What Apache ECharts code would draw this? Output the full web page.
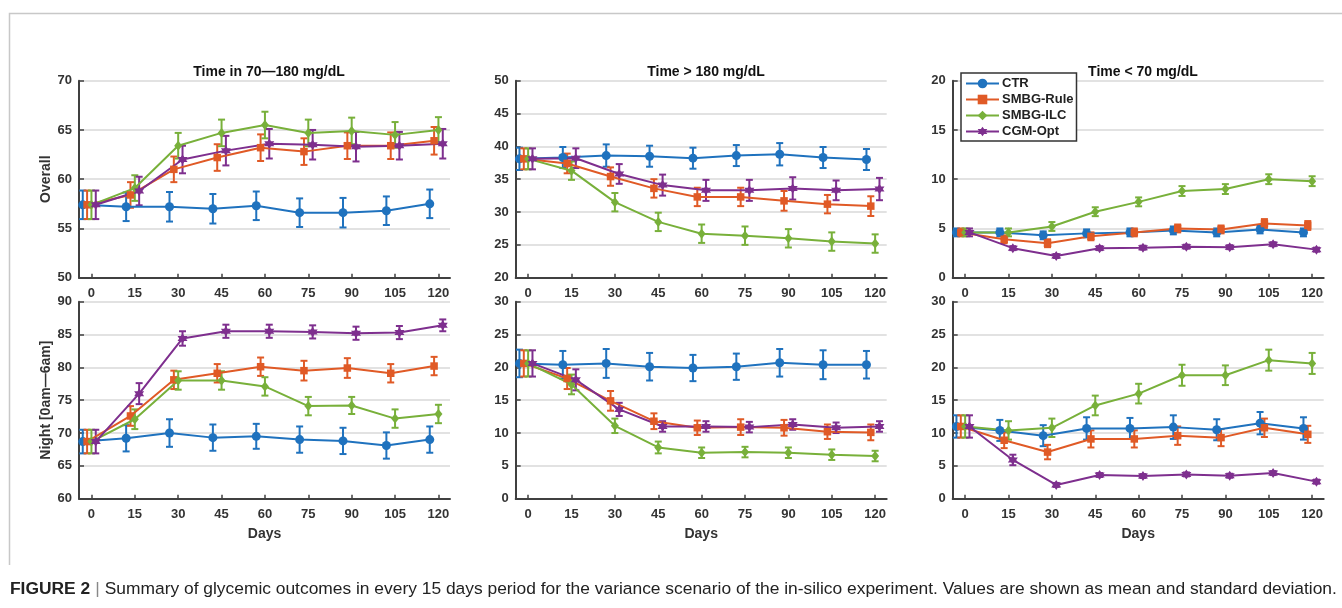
<!DOCTYPE html>
<html lang="en" style="height: 100%">
<head>
  <meta charset="utf-8">
  <title>Figure 2</title>
</head>
<body style="height: 100%; margin: 0; background: #fff">
  <div id="container" style="width: 1342px; height: 608px"></div>
  <script src="https://cdn.jsdelivr.net/npm/echarts@6/dist/echarts.min.js"></script>
  <script>
    // days and series names
    var days = [0, 15, 30, 45, 60, 75, 90, 105, 120];
    var methods = ['CTR', 'SMBG-Rule', 'SMBG-ILC', 'CGM-Opt'];
    var colors = ['#1f72be', '#e05a26', '#78b03a', '#7e2f8e'];
    var offsets = [-3, -1.5, 0, 1.5];

    // Time in 70-180, overall  (rows: CTR, Rule, ILC, Opt)
    var tirAllMean = [
      [57.4, 57.2, 57.2, 57.0, 57.3, 56.6, 56.6, 56.8, 57.5],
      [57.4, 58.4, 61.0, 62.2, 63.2, 62.8, 63.4, 63.4, 63.9],
      [57.4, 59.1, 63.4, 64.7, 65.5, 64.7, 64.9, 64.5, 65.0],
      [57.4, 58.8, 62.0, 62.9, 63.6, 63.5, 63.3, 63.4, 63.6]
    ];
    var tirAllSd = [
      [1.45, 1.45, 1.5, 1.5, 1.45, 1.45, 1.5, 1.45, 1.45],
      [1.45, 1.3, 1.3, 1.35, 1.35, 1.35, 1.35, 1.35, 1.4],
      [1.45, 1.3, 1.3, 1.35, 1.35, 1.35, 1.35, 1.3, 1.3],
      [1.45, 1.45, 1.4, 1.5, 1.5, 1.5, 1.5, 1.4, 1.5]
    ];
    // Time in 70-180, night
    var tirNightMean = [
      [68.7, 69.2, 70.0, 69.3, 69.5, 69.0, 68.8, 68.1, 69.0],
      [68.7, 72.6, 78.1, 79.1, 80.1, 79.5, 79.9, 79.1, 80.2],
      [68.7, 72.1, 78.0, 78.0, 77.1, 74.1, 74.2, 72.2, 72.9],
      [68.7, 76.0, 84.4, 85.5, 85.5, 85.4, 85.2, 85.3, 86.4]
    ];
    var tirNightSd = [
      [1.8, 2.0, 2.1, 2.0, 1.9, 2.0, 2.0, 2.0, 2.0],
      [1.8, 1.5, 1.4, 1.4, 1.4, 1.5, 1.5, 1.4, 1.4],
      [1.8, 1.5, 1.4, 1.4, 1.4, 1.4, 1.3, 1.4, 1.4],
      [1.8, 1.6, 1.1, 1.0, 1.0, 1.0, 1.0, 1.0, 0.9]
    ];
    // Time > 180, overall
    var tarAllMean = [
      [38.1, 38.3, 38.6, 38.5, 38.2, 38.6, 38.8, 38.3, 38.0],
      [38.1, 37.4, 35.4, 33.6, 32.3, 32.3, 31.7, 31.2, 30.9],
      [38.1, 36.3, 31.5, 28.5, 26.7, 26.4, 26.0, 25.5, 25.2],
      [38.1, 38.2, 35.8, 34.1, 33.3, 33.3, 33.6, 33.3, 33.5]
    ];
    var tarAllSd = [
      [1.7, 1.6, 1.7, 1.6, 1.6, 1.6, 1.7, 1.6, 1.6],
      [1.6, 1.5, 1.4, 1.4, 1.4, 1.4, 1.5, 1.4, 1.5],
      [1.6, 1.4, 1.4, 1.4, 1.4, 1.4, 1.4, 1.4, 1.4],
      [1.6, 1.5, 1.5, 1.6, 1.6, 1.6, 1.7, 1.5, 1.7]
    ];
    // Time > 180, night
    var tarNightMean = [
      [20.6, 20.4, 20.6, 20.1, 19.9, 20.1, 20.7, 20.4, 20.4],
      [20.6, 18.3, 14.9, 11.8, 10.8, 10.9, 10.8, 10.2, 10.1],
      [20.6, 17.4, 11.1, 7.8, 7.0, 7.1, 7.0, 6.7, 6.5],
      [20.6, 18.1, 13.6, 11.0, 11.0, 10.9, 11.3, 10.8, 11.0]
    ];
    var tarNightSd = [
      [2.1, 2.1, 2.2, 2.1, 2.0, 2.0, 2.1, 2.2, 2.1],
      [2.0, 1.6, 1.5, 1.2, 1.1, 1.2, 1.2, 1.1, 1.2],
      [2.0, 1.5, 1.1, 0.9, 0.8, 0.8, 0.8, 0.8, 0.8],
      [2.0, 1.6, 1.0, 0.8, 0.8, 0.8, 0.8, 0.8, 0.8]
    ];
    // Time < 70, overall
    var tbrAllMean = [
      [4.6, 4.6, 4.3, 4.5, 4.6, 4.8, 4.6, 4.9, 4.6],
      [4.6, 3.9, 3.5, 4.2, 4.6, 5.0, 4.9, 5.5, 5.3],
      [4.6, 4.6, 5.2, 6.7, 7.7, 8.8, 9.0, 10.0, 9.8],
      [4.6, 3.0, 2.2, 3.0, 3.05, 3.15, 3.1, 3.4, 2.85]
    ];
    var tbrAllSd = [
      [0.4, 0.4, 0.4, 0.4, 0.4, 0.4, 0.4, 0.4, 0.4],
      [0.4, 0.4, 0.4, 0.4, 0.4, 0.4, 0.4, 0.45, 0.45],
      [0.4, 0.4, 0.45, 0.45, 0.45, 0.5, 0.5, 0.5, 0.5],
      [0.4, 0.2, 0.2, 0.2, 0.2, 0.2, 0.2, 0.2, 0.2]
    ];
    // Time < 70, night
    var tbrNightMean = [
      [11.0, 10.4, 9.6, 10.7, 10.7, 10.9, 10.5, 11.5, 10.7],
      [11.0, 8.9, 7.1, 9.1, 9.1, 9.6, 9.3, 10.8, 9.8],
      [11.0, 10.4, 10.8, 14.2, 16.0, 18.8, 18.8, 21.1, 20.6],
      [11.0, 5.9, 2.1, 3.6, 3.45, 3.7, 3.5, 3.9, 2.6]
    ];
    var tbrNightSd = [
      [1.7, 1.6, 1.6, 1.7, 1.6, 1.8, 1.6, 1.7, 1.7],
      [1.7, 1.2, 1.1, 1.3, 1.3, 1.4, 1.3, 1.4, 1.3],
      [1.7, 1.4, 1.4, 1.5, 1.5, 1.6, 1.5, 1.6, 1.6],
      [1.7, 0.8, 0.3, 0.3, 0.3, 0.3, 0.3, 0.3, 0.3]
    ];

    var panels = [
      { mean: tirAllMean, sd: tirAllSd, y: [50, 70, 5] },
      { mean: tarAllMean, sd: tarAllSd, y: [20, 50, 5] },
      { mean: tbrAllMean, sd: tbrAllSd, y: [0, 20, 5] },
      { mean: tirNightMean, sd: tirNightSd, y: [60, 90, 5] },
      { mean: tarNightMean, sd: tarNightSd, y: [0, 30, 5] },
      { mean: tbrNightMean, sd: tbrNightSd, y: [0, 30, 5] }
    ];

    var FONT = '"Liberation Sans", Arial, sans-serif';
    var AXIS = '#404040';
    var hexagram = 'path://M0,-10L2.89,-5L8.66,-5L5.77,0L8.66,5L2.89,5L0,10L-2.89,5L-8.66,5L-5.77,0L-8.66,-5L-2.89,-5Z';
    var symbols = ['circle', 'rect', 'diamond', hexagram];
    var symbolSizes = [9, 7.5, [8, 10], 10];

    var lefts = [79, 515.7, 952.7];
    var tops = [80.7, 301.7];

    var grids = [], xAxes = [], yAxes = [], series = [];

    function errRender(params, api) {
      var x = api.value(0);
      var top = api.coord([x, api.value(2)]);
      var bot = api.coord([x, api.value(1)]);
      var w = 3.5;
      var st = { stroke: api.visual('color'), lineWidth: 2 };
      return {
        type: 'group',
        children: [
          { type: 'line', shape: { x1: top[0], y1: top[1], x2: bot[0], y2: bot[1] }, style: st },
          { type: 'line', shape: { x1: top[0] - w, y1: top[1], x2: top[0] + w, y2: top[1] }, style: st },
          { type: 'line', shape: { x1: bot[0] - w, y1: bot[1], x2: bot[0] + w, y2: bot[1] }, style: st }
        ]
      };
    }

    panels.forEach(function (p, i) {
      var row = Math.floor(i / 3), col = i % 3;
      grids.push({ left: lefts[col], top: tops[row], width: 371, height: 197, outerBoundsMode: 'none', containLabel: false });
      xAxes.push({
        type: 'value', gridIndex: i, min: -4.3, max: 124,
        name: row === 1 ? 'Days' : '',
        nameLocation: 'middle', nameGap: 28,
        nameTextStyle: { fontFamily: FONT, fontWeight: 'bold', fontSize: 14, color: '#333' },
        axisLine: { show: true, onZero: false, lineStyle: { color: AXIS, width: 2 } },
        axisTick: { show: true, inside: true, length: 4, customValues: days, lineStyle: { color: AXIS, width: 1.5 } },
        axisLabel: { customValues: days, margin: 9, fontFamily: FONT, fontWeight: 'bold', fontSize: 13, color: '#333' },
        splitLine: { show: false }
      });
      yAxes.push({
        type: 'value', gridIndex: i, min: p.y[0], max: p.y[1], interval: p.y[2],
        name: col === 0 ? (row === 0 ? 'Overall' : 'Night [0am\u20146am]') : '',
        nameLocation: 'middle', nameGap: 26, nameMoveOverlap: false,
        nameTextStyle: { fontFamily: FONT, fontWeight: 'bold', fontSize: 14, color: '#333' },
        axisLine: { show: true, onZero: false, lineStyle: { color: AXIS, width: 2 } },
        axisTick: { show: true, inside: true, length: 5, lineStyle: { color: AXIS, width: 1.5 } },
        axisLabel: { margin: 7, fontFamily: FONT, fontWeight: 'bold', fontSize: 13, color: '#333' },
        splitLine: { show: true, lineStyle: { color: '#e2e2e2', width: 2 } }
      });
      methods.forEach(function (m, k) {
        var errData = days.map(function (d, j) {
          return [d + offsets[k], p.mean[k][j] - p.sd[k][j], p.mean[k][j] + p.sd[k][j]];
        });
        series.push({
          type: 'custom', name: m + ' sd', xAxisIndex: i, yAxisIndex: i,
          renderItem: errRender, encode: { x: 0, y: [1, 2] },
          itemStyle: { color: colors[k] }, data: errData, silent: true
        });
        series.push({
          type: 'line', name: m, xAxisIndex: i, yAxisIndex: i,
          data: days.map(function (d, j) { return [d + offsets[k], p.mean[k][j]]; }),
          symbol: symbols[k], symbolSize: symbolSizes[k], showSymbol: true,
          itemStyle: { color: colors[k] },
          lineStyle: { color: colors[k], width: 2 }
        });
      });
    });

    var titleStyle = { fontFamily: FONT, fontWeight: 'bold', fontSize: 14, color: '#111' };
    var option = {
      animation: false,
      backgroundColor: '#fff',
      title: [
        { text: 'Time in 70\u2014180 mg/dL', left: 264, top: 60, textAlign: 'center', textStyle: titleStyle },
        { text: 'Time > 180 mg/dL', left: 701, top: 60, textAlign: 'center', textStyle: titleStyle },
        { text: 'Time < 70 mg/dL', left: 1138, top: 60, textAlign: 'center', textStyle: titleStyle },
        {
          text: '{b|FIGURE 2} {s||} {n|Summary of glycemic outcomes in every 15 days period for the variance scenario of the in-silico experiment. Values are shown as mean and standard deviation.}',
          left: 5, top: 575,
          textStyle: {
            fontWeight: 'normal',
            rich: {
              b: { fontFamily: FONT, fontWeight: 'bold', fontSize: 17.4, color: '#222' },
              s: { fontFamily: FONT, fontWeight: 'normal', fontSize: 17.4, color: '#888' },
              n: { fontFamily: FONT, fontWeight: 'normal', fontSize: 17.4, color: '#222' }
            }
          }
        }
      ],
      legend: {
        data: methods, orient: 'vertical', left: 961, top: 73,
        backgroundColor: '#fff', borderColor: '#333', borderWidth: 1.5, borderRadius: 0,
        padding: [4, 3, 3, 4], itemGap: 3, itemWidth: 33, itemHeight: 12,
        textStyle: { fontFamily: FONT, fontWeight: 'bold', fontSize: 13, color: '#222', padding: [0, 0, 0, -2] },
        z: 10
      },
      graphic: [
        { type: 'polyline', shape: { points: [[9.5, 565], [9.5, 13.5], [1342, 13.5]] }, style: { stroke: '#c8c8c8', lineWidth: 1.5, fill: null } }
      ],
      grid: grids,
      xAxis: xAxes,
      yAxis: yAxes,
      series: series
    };

    var myChart = echarts.init(document.getElementById('container'), null, { renderer: 'canvas' });
    myChart.setOption(option);
    window.addEventListener('resize', myChart.resize);
  </script>
</body>
</html>
